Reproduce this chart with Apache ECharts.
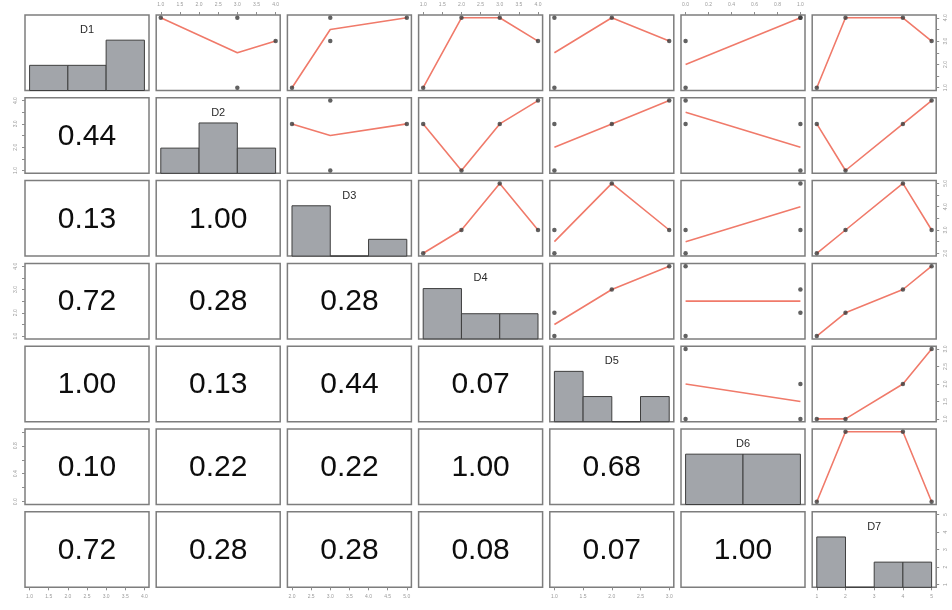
<!DOCTYPE html>
<html>
<head>
<meta charset="utf-8">
<script src="https://cdn.jsdelivr.net/npm/echarts@6/dist/echarts.min.js"></script>
<style>
  html, body { margin: 0; background: #fff; }
  #chart { width: 952px; height: 610px; }
</style>
</head>
<body>
<div id="chart"></div>
<script>
// variable names
const names = ["D1", "D2", "D3", "D4", "D5", "D6", "D7"];

// the four observations of each variable
const D1 = [4, 4, 1, 3];
const D2 = [1, 3, 3, 4];
const D3 = [3, 5, 2, 3];
const D4 = [2, 3, 1, 4];
const D5 = [1, 2, 1, 3];
const D6 = [1, 1, 0, 0];
const D7 = [2, 4, 1, 5];

// histogram breaks for the diagonal
const breaks = [
  [1, 2, 3, 4],
  [1, 2, 3, 4],
  [2, 3, 4, 5],
  [1, 2, 3, 4],
  [1, 1.5, 2, 2.5, 3],
  [0, 0.5, 1],
  [1, 2, 3, 4, 5],
];

// outer axis ticks and which of them get a label on the side axes
const ticks = [
  [1, 1.5, 2, 2.5, 3, 3.5, 4],
  [1, 1.5, 2, 2.5, 3, 3.5, 4],
  [2, 2.5, 3, 3.5, 4, 4.5, 5],
  [1, 1.5, 2, 2.5, 3, 3.5, 4],
  [1, 1.5, 2, 2.5, 3],
  [0, 0.2, 0.4, 0.6, 0.8, 1],
  [1, 2, 3, 4, 5],
];
const sideLabels = [
  [1, 2, 3, 4],
  [1, 2, 3, 4],
  [2, 3, 4, 5],
  [1, 2, 3, 4],
  [1, 1.5, 2, 2.5, 3],
  [0, 0.4, 0.8],
  [1, 2, 3, 4, 5],
];
const tickDigits = [1, 1, 1, 1, 1, 1, 0];

// lower triangle texts, row by row
const lowerText = [
  [],
  ["0.44"],
  ["0.13", "1.00"],
  ["0.72", "0.28", "0.28"],
  ["1.00", "0.13", "0.44", "0.07"],
  ["0.10", "0.22", "0.22", "1.00", "0.68"],
  ["0.72", "0.28", "0.28", "0.08", "0.07", "1.00"],
];

const vars = [D1, D2, D3, D4, D5, D6, D7];
const N = vars.length;

// layout
const L0 = 25, CSTEP = 131.2, CW = 124;
const T0 = 15, RSTEP = 82.8, RH = 75.5;

const FONT = "'Liberation Sans', Arial, Helvetica, sans-serif";
const LINE_COLOR = "#f07a6a";
const TICK_COLOR = "#8c8c8c";

function range(v) {
  const lo = Math.min(...v), hi = Math.max(...v);
  const p = (hi - lo) * 0.04;
  return [lo - p, hi + p];
}

function histCounts(v, b) {
  const out = [];
  for (let k = 0; k < b.length - 1; k++) {
    const n = v.filter(x => (k === 0 ? x >= b[k] : x > b[k]) && x <= b[k + 1]).length;
    out.push([b[k], b[k + 1], n]);
  }
  return out;
}

// mean of y for each distinct x (the fitted line)
function fitLine(xs, ys) {
  const ux = [...new Set(xs)].sort((a, b) => a - b);
  return ux.map(u => {
    const sel = ys.filter((y, i) => xs[i] === u);
    return [u, sel.reduce((a, b) => a + b, 0) / sel.length];
  });
}

const grids = [], xAxes = [], yAxes = [], series = [], graphics = [];
const countAxes = [];

for (let r = 0; r < N; r++) {
  for (let c = 0; c < N; c++) {
    const g = r * N + c;
    const left = L0 + c * CSTEP, top = T0 + r * RSTEP;
    grids.push({
      left: left, top: top, width: CW, height: RH,
      show: true, backgroundColor: "#fff",
      borderColor: "#7d7d7d", borderWidth: 1.5,
    });

    const xr = range(vars[c]), yr = range(vars[r]);
    const topAxis = r === 0 && c % 2 === 1;
    const bottomAxis = r === N - 1 && c % 2 === 0;
    const leftAxis = c === 0 && r % 2 === 1;
    const rightAxis = c === N - 1 && r % 2 === 0;
    const showX = topAxis || bottomAxis;
    const showY = leftAxis || rightAxis;

    xAxes.push({
      gridIndex: g, type: "value", min: xr[0], max: xr[1],
      position: topAxis ? "top" : "bottom",
      show: showX,
      axisLine: { show: false },
      splitLine: { show: false },
      axisTick: {
        show: showX, customValues: ticks[c], length: 3,
        lineStyle: { color: TICK_COLOR, width: 1 },
      },
      axisLabel: {
        show: showX, customValues: ticks[c],
        formatter: v => Number(v).toFixed(tickDigits[c]),
        fontSize: 5, color: "#9a9a9a", margin: topAxis ? 8 : 7,
        fontFamily: FONT,
      },
    });

    yAxes.push({
      gridIndex: g, type: "value", min: yr[0], max: yr[1],
      position: rightAxis ? "right" : "left",
      show: showY,
      axisLine: { show: false },
      splitLine: { show: false },
      axisTick: {
        show: showY, customValues: ticks[r], length: 3,
        lineStyle: { color: TICK_COLOR, width: 1 },
      },
      axisLabel: {
        show: showY, customValues: sideLabels[r], rotate: 90,
        formatter: v => Number(v).toFixed(tickDigits[r]),
        fontSize: 5, color: "#9a9a9a", margin: 7,
        fontFamily: FONT,
      },
    });

    if (r < c) {
      const pts = vars[c].map((x, i) => [x, vars[r][i]]);
      series.push({
        type: "line", xAxisIndex: g, yAxisIndex: g,
        data: fitLine(vars[c], vars[r]),
        showSymbol: false, silent: true, z: 2,
        lineStyle: { color: LINE_COLOR, width: 1.6 },
      });
      series.push({
        type: "scatter", xAxisIndex: g, yAxisIndex: g,
        data: pts, symbolSize: 4.5, silent: true, z: 3,
        itemStyle: { color: "#3b3b3b" },
      });
    } else if (r > c) {
      const txt = lowerText[r][c];
      series.push({
        type: "custom", xAxisIndex: g, yAxisIndex: g, silent: true,
        data: [[(xr[0] + xr[1]) / 2, (yr[0] + yr[1]) / 2]],
        renderItem: (params, api) => {
          const p = api.coord([api.value(0), api.value(1)]);
          return {
            type: "text",
            style: {
              text: txt, x: p[0], y: p[1] + 1,
              fill: "#0d0d0d", font: "30px " + FONT,
              align: "center", verticalAlign: "middle",
            },
          };
        },
      });
    } else {
      const counts = histCounts(vars[r], breaks[r]);
      const maxCount = Math.max(...counts.map(d => d[2]));
      const ci = N * N + countAxes.length;
      countAxes.push({
        gridIndex: g, type: "value", min: 0, max: maxCount * 1.5, show: false,
      });
      series.push({
        type: "custom", xAxisIndex: g, yAxisIndex: ci,
        data: counts, silent: true,
        encode: { x: [0, 1], y: 2 },
        renderItem: (params, api) => {
          const p0 = api.coord([api.value(0), api.value(2)]);
          const p1 = api.coord([api.value(1), 0]);
          return {
            type: "rect",
            shape: { x: p0[0], y: p0[1], width: p1[0] - p0[0], height: p1[1] - p0[1] },
            style: { fill: "#a2a5aa", stroke: "#3f3f3f", lineWidth: 1 },
          };
        },
      });
      graphics.push({
        type: "text", x: left + CW / 2, y: top + 15, z: 10,
        style: {
          text: names[r], fill: "#2a2a2a", font: "11px " + FONT,
          textAlign: "center", textVerticalAlign: "middle",
        },
      });
    }
  }
}

const chart = echarts.init(document.getElementById("chart"));
chart.setOption({
  animation: false,
  backgroundColor: "#fff",
  textStyle: { fontFamily: FONT },
  grid: grids,
  xAxis: xAxes,
  yAxis: yAxes.concat(countAxes),
  series: series,
  graphic: graphics,
});
</script>
</body>
</html>
